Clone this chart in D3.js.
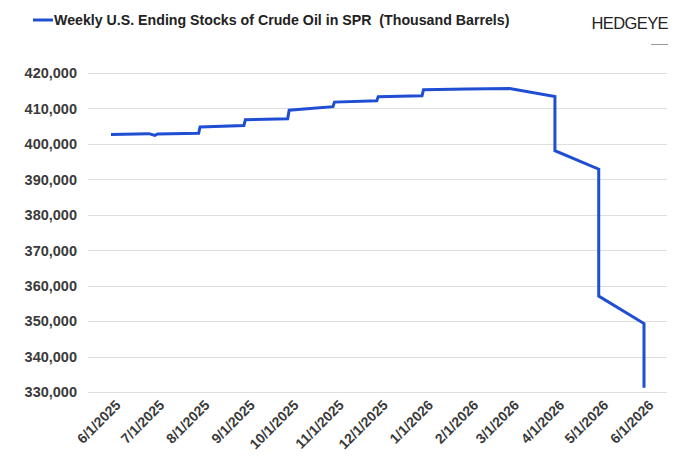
<!DOCTYPE html>
<html>
<head>
<meta charset="utf-8">
<script src="https://cdn.jsdelivr.net/npm/d3@7"></script>
<style>
  body { margin: 0; background: #fff; }
  svg { display: block; }
</style>
</head>
<body>
<div id="chart"></div>
<script>
// weekly SPR stocks (thousand barrels)
var dates = [
  "2025-06-01", "2025-06-27", "2025-07-01", "2025-07-03", "2025-07-31",
  "2025-08-01", "2025-08-31", "2025-09-01", "2025-09-30", "2025-10-01",
  "2025-10-31", "2025-11-01", "2025-11-30", "2025-12-01", "2025-12-31",
  "2026-01-01", "2026-01-31", "2026-03-01", "2026-04-01", "2026-04-01",
  "2026-05-01", "2026-05-01", "2026-06-01", "2026-06-01"
];
var stocks = [
  402700, 402900, 402400, 402800, 403000,
  404800, 405200, 406800, 407100, 409500,
  410500, 411800, 412200, 413300, 413600,
  415300, 415500, 415600, 413400, 398100,
  392900, 357100, 349400, 331300
];
var yTicks = [330000, 340000, 350000, 360000, 370000, 380000, 390000, 400000, 410000, 420000];
var seriesName = "Weekly U.S. Ending Stocks of Crude Oil in SPR  (Thousand Barrels)";

var parseDate = d3.timeParse("%Y-%m-%d");
var data = dates.map(function (d, i) {
  return {date: parseDate(d), value: stocks[i]};
});

var width = 680, height = 467;
var font = "Liberation Sans, Arial, sans-serif";

var svg = d3.select("#chart").append("svg")
  .attr("width", width)
  .attr("height", height);

// scales
var x = d3.scaleTime()
  .domain([parseDate("2025-06-01"), parseDate("2026-06-01")])
  .range([111, 644]);
var y = d3.scaleLinear()
  .domain([330000, 420000])
  .range([392.3, 73]);

// gridlines
svg.append("g")
  .selectAll("line")
  .data(yTicks)
  .enter().append("line")
  .attr("x1", 88)
  .attr("x2", 667)
  .attr("y1", function (d) { return Math.round(y(d)) + 0.5; })
  .attr("y2", function (d) { return Math.round(y(d)) + 0.5; })
  .attr("stroke", "#dedede")
  .attr("stroke-width", 1);

// y axis labels
var yAxis = d3.axisLeft(y)
  .tickValues(yTicks)
  .tickFormat(d3.format(","))
  .tickSize(0)
  .tickPadding(0);
svg.append("g")
  .attr("transform", "translate(77,0)")
  .call(yAxis)
  .call(function (g) { g.select(".domain").remove(); })
  .selectAll("text")
  .attr("font-family", font)
  .attr("font-weight", "bold")
  .attr("font-size", 14.5)
  .attr("fill", "#3a3a3a");

// x axis labels, rotated
var xAxis = d3.axisBottom(x)
  .ticks(d3.timeMonth.every(1))
  .tickFormat(d3.timeFormat("%-m/%-d/%Y"))
  .tickSize(0)
  .tickPadding(0);
svg.append("g")
  .attr("transform", "translate(0,398)")
  .call(xAxis)
  .call(function (g) { g.select(".domain").remove(); })
  .selectAll("text")
  .attr("font-family", font)
  .attr("font-weight", "bold")
  .attr("font-size", 14)
  .attr("fill", "#3a3a3a")
  .attr("dy", "0.8em")
  .attr("text-anchor", "end")
  .attr("transform", "translate(2,0) rotate(-45)");

// the line
var valueline = d3.line()
  .x(function (d) { return x(d.date); })
  .y(function (d) { return y(d.value); });

svg.append("path")
  .datum(data)
  .attr("d", valueline)
  .attr("fill", "none")
  .attr("stroke", "#1f4ed2")
  .attr("stroke-width", 3)
  .attr("stroke-linejoin", "miter");

// legend
var legend = svg.append("g");
legend.append("line")
  .attr("x1", 33).attr("x2", 53)
  .attr("y1", 20).attr("y2", 20)
  .attr("stroke", "#1f4ed2")
  .attr("stroke-width", 3);
legend.append("text")
  .attr("x", 54)
  .attr("y", 25)
  .attr("font-family", font)
  .attr("font-weight", "bold")
  .attr("font-size", 14.2)
  .attr("fill", "#222")
  .attr("xml:space", "preserve")
  .style("white-space", "pre")
  .text(seriesName);

// brand
svg.append("text")
  .attr("x", 668)
  .attr("y", 29)
  .attr("text-anchor", "end")
  .attr("font-family", font)
  .attr("font-size", 16.5)
  .attr("letter-spacing", -0.6)
  .attr("fill", "#222")
  .text("HEDGEYE");
svg.append("line")
  .attr("x1", 651).attr("x2", 668)
  .attr("y1", 44.5).attr("y2", 44.5)
  .attr("stroke", "#999")
  .attr("stroke-width", 1);
</script>
</body>
</html>
